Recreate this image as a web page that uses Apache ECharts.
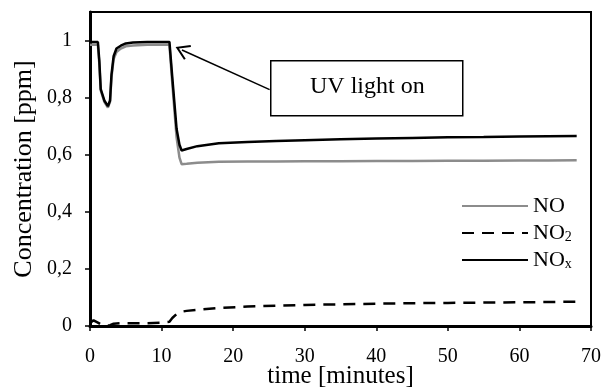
<!DOCTYPE html>
<html>
<head>
<meta charset="utf-8">
<script src="https://cdn.jsdelivr.net/npm/echarts@6/dist/echarts.min.js"></script>
<style>
  html, body { margin: 0; padding: 0; background: #fff; }
  #chart { width: 604px; height: 387px; }
</style>
</head>
<body>
<div id="chart"></div>
<script>
// time in minutes
var times = [0, 0.5, 1.1, 1.3, 1.5, 2.0, 2.5, 2.8, 3.0, 3.3,
  3.7, 4.3, 5.0, 6, 8, 10, 11.1, 11.5, 12.1, 12.5,
  12.8, 13.5, 15, 18, 22, 26, 30, 35, 40, 45,
  50, 55, 60, 64, 68];
// concentrations in ppm
var no = [0.985, 0.985, 0.985, 0.92, 0.825, 0.785, 0.765, 0.785, 0.87, 0.935,
  0.96, 0.972, 0.98, 0.983, 0.985, 0.985, 0.985, 0.85, 0.66, 0.59,
  0.567, 0.568, 0.572, 0.575, 0.576, 0.576, 0.577, 0.577, 0.578, 0.578,
  0.579, 0.579, 0.58, 0.58, 0.581];
var no2 = [0.01, 0.02, 0.012, 0.008, 0.006, 0.004, 0.002, 0.003, 0.006, 0.008,
  0.009, 0.01, 0.01, 0.01, 0.01, 0.012, 0.015, 0.028, 0.042, 0.047,
  0.05, 0.053, 0.057, 0.063, 0.068, 0.071, 0.074, 0.076, 0.078, 0.08,
  0.081, 0.082, 0.083, 0.084, 0.085];
var nox = [0.995, 0.995, 0.995, 0.93, 0.83, 0.79, 0.77, 0.79, 0.88, 0.945,
  0.972, 0.982, 0.99, 0.993, 0.995, 0.995, 0.995, 0.87, 0.69, 0.635,
  0.615, 0.62, 0.63, 0.64, 0.645, 0.648, 0.651, 0.654, 0.657, 0.659,
  0.661, 0.662, 0.664, 0.665, 0.666];
var yTicks = [0, 0.2, 0.4, 0.6, 0.8, 1];
var xTicks = [0, 10, 20, 30, 40, 50, 60, 70];
// arrow from the box to the drop
var arrowFrom = [25.1, 0.828];
var arrowTo = [12.85, 0.967];

function pairs(ys) {
  return times.map(function (t, i) { return [t, ys[i]]; });
}

var FONT = 'Liberation Serif';
var chart = echarts.init(document.getElementById('chart'));

var option = {
  animation: false,
  grid: {
    left: 90, right: 13, top: 12, bottom: 61,
    containLabel: false, outerBoundsMode: 'none',
    show: true, borderColor: '#000', borderWidth: 2
  },
  legend: {
    orient: 'vertical',
    left: 456, top: 190,
    itemWidth: 66, itemHeight: 14, itemGap: 5,
    data: ['NO', 'NO2', 'NOx'],
    itemStyle: { opacity: 0 },
    formatter: function (name) {
      if (name === 'NO2') return 'NO{s|2}';
      if (name === 'NOx') return 'NO{s|x}';
      return name;
    },
    textStyle: {
      fontFamily: FONT, fontSize: 22, color: '#000',
      rich: { s: { fontFamily: FONT, fontSize: 14, color: '#000', padding: [8, 0, 0, 0] } }
    }
  },
  xAxis: {
    type: 'value', min: 0, max: 70, interval: 10,
    name: 'time [minutes]', nameLocation: 'middle', nameGap: 38, nameMoveOverlap: false,
    nameTextStyle: { fontFamily: FONT, fontSize: 25, color: '#000' },
    axisLine: { lineStyle: { color: '#000', width: 3 } },
    axisTick: { show: true, length: 5, inside: false, lineStyle: { color: '#000', width: 1.5 }, customValues: xTicks },
    axisLabel: { fontFamily: FONT, fontSize: 20, color: '#000', margin: 21, customValues: xTicks },
    splitLine: { show: false }
  },
  yAxis: {
    type: 'value', min: 0, max: 1.1, interval: 0.2,
    name: 'Concentration [ppm]', nameLocation: 'middle', nameGap: 53, nameMoveOverlap: false,
    nameTextStyle: { fontFamily: FONT, fontSize: 26, color: '#000' },
    axisLine: { show: true, lineStyle: { color: '#000', width: 3 } },
    axisTick: { show: true, length: 5, lineStyle: { color: '#000', width: 1.5 }, customValues: yTicks },
    axisLabel: {
      fontFamily: FONT, fontSize: 20, color: '#000', margin: 18, customValues: yTicks,
      formatter: function (v) { return String(Math.round(v * 10) / 10).replace('.', ','); }
    },
    splitLine: { show: false }
  },
  series: [
    {
      name: 'NO', type: 'line', data: pairs(no), symbol: 'none',
      itemStyle: { color: '#8c8c8c' },
      lineStyle: { color: '#8c8c8c', width: 2.5 }
    },
    {
      name: 'NO2', type: 'line', data: pairs(no2), symbol: 'none',
      itemStyle: { color: '#000' },
      lineStyle: { color: '#000', width: 2.5, type: [12, 8] }
    },
    {
      name: 'NOx', type: 'line', data: pairs(nox), symbol: 'none',
      itemStyle: { color: '#000' },
      lineStyle: { color: '#000', width: 2.5 },
      markLine: {
        silent: true,
        label: { show: false },
        lineStyle: { color: '#000', width: 1.5, type: 'solid' },
        data: [[
          { coord: arrowFrom, symbol: 'none' },
          { coord: arrowTo, symbol: 'path://M5,0 L10,9 L9,9.8 L5,2.6 L1,9.8 L0,9 Z', symbolSize: [16, 14] }
        ]]
      }
    }
  ],
  graphic: [
    {
      type: 'rect', left: 270, top: 60, z: 100,
      shape: { width: 192, height: 55 },
      style: { fill: '#fff', stroke: '#000', lineWidth: 1.5 }
    },
    {
      type: 'text', left: 310, top: 75, z: 101,
      style: { text: 'UV light on', fontFamily: FONT, fontSize: 24, fill: '#000' }
    }
  ]
};

chart.setOption(option);
</script>
</body>
</html>
